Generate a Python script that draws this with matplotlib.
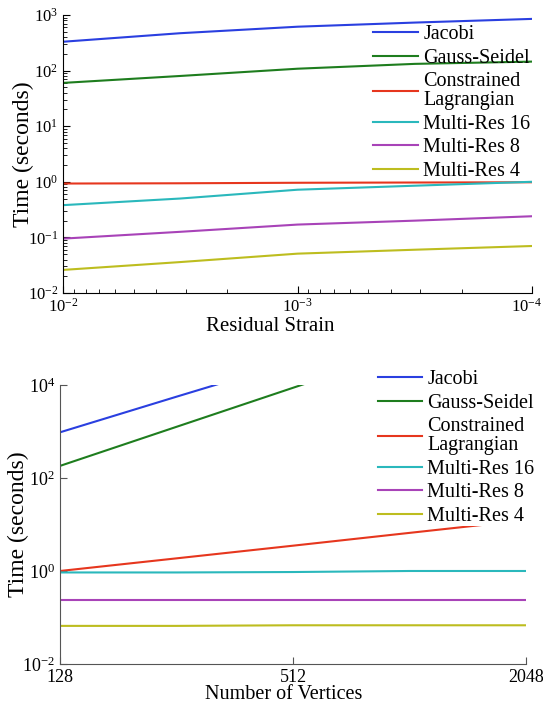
import numpy as np
import matplotlib
matplotlib.use("Agg")
import matplotlib.pyplot as plt
import matplotlib.transforms as mtransforms
from matplotlib.ticker import LogLocator, FixedLocator, NullLocator, LogFormatterSciNotation

plt.rcParams['font.family'] = ['Liberation Serif', 'DejaVu Serif']
plt.rcParams['mathtext.fontset'] = 'custom'
plt.rcParams['mathtext.rm'] = 'Liberation Serif'

# --- données : temps vs déformation résiduelle ---
strain = [1e-2, 3.16e-3, 1e-3, 3.16e-4, 1e-4]
jacobi_s = [330, 470, 615, 730, 850]
gauss_s = [60, 80, 108, 132, 145]
lagr_s = [0.93, 0.94, 0.96, 0.97, 0.98]
mr16_s = [0.38, 0.50, 0.72, 0.85, 1.0]
mr8_s = [0.095, 0.126, 0.17, 0.20, 0.24]
mr4_s = [0.026, 0.036, 0.051, 0.060, 0.070]

# --- données : temps vs nombre de sommets ---
verts = [128, 256, 512, 1024, 2048]
jacobi_v = [960, 5600, 32000]
gauss_v = [182, 1260, 8700, 60000]
lagr_v = [1.0, 1.87, 3.5, 6.6, 12.4]
mr16_v = [0.93, 0.93, 0.95, 1.0, 1.0]
mr8_v = [0.24, 0.24, 0.24, 0.24, 0.24]
mr4_v = [0.066, 0.066, 0.068, 0.068, 0.068]

labels = ['Jacobi', 'Gauss-Seidel', 'Constrained\nLagrangian',
          'Multi-Res 16', 'Multi-Res 8', 'Multi-Res 4']
colors = ['#2a3fe0', '#1e7d1e', '#e6361e', '#2ab8bc', '#a843b8', '#bdbd1f']
LW = 1.5

fig = plt.figure(figsize=(5.43, 7.06), dpi=100)

# ---------- panneau du haut ----------
ax1 = fig.add_axes([0.116, 0.585, 0.864, 0.3938])
series_s = [jacobi_s, gauss_s, lagr_s, mr16_s, mr8_s, mr4_s]
for ys, lab, c in zip(series_s, labels, colors):
    ax1.plot(strain, ys, color=c, lw=LW, label=lab)
ax1.set_xscale('log')
ax1.set_yscale('log')
ax1.set_xlim(1e-2, 1e-4)
ax1.set_ylim(1e-2, 1e3)
ax1.xaxis.set_major_locator(FixedLocator([1e-2, 1e-3, 1e-4]))
ax1.yaxis.set_major_locator(LogLocator(base=10, numticks=10))
ax1.yaxis.set_minor_locator(LogLocator(base=10, subs=np.arange(2, 10), numticks=10))
ax1.xaxis.set_major_formatter(LogFormatterSciNotation())
for s in ['top', 'right']:
    ax1.spines[s].set_visible(False)
ax1.tick_params(which='both', direction='in', labelsize=12, color='black')
ax1.tick_params(which='major', length=5)
ax1.tick_params(which='minor', length=3)
ax1.set_xlabel('Residual Strain', fontsize=15)
ax1.xaxis.set_label_coords(0.441, -0.085)
ax1.set_ylabel('Time (seconds)', fontsize=17)
ax1.yaxis.set_label_coords(-0.062, 0.5)
leg1 = ax1.legend(loc='upper left', bbox_to_anchor=(0.661, 0.963), frameon=False,
                  fontsize=14.5, handlelength=2.25, handletextpad=0.25,
                  labelspacing=0.22, borderpad=0, borderaxespad=0)
for t in leg1.get_texts():
    t.set_linespacing(1.0)

fig.canvas.draw()
# décale légèrement la dernière étiquette (10^-4) vers la gauche
last = ax1.get_xticklabels()[-1]
last.set_transform(last.get_transform() +
                   mtransforms.ScaledTranslation(-6 / 100, 0, fig.dpi_scale_trans))

# ---------- panneau du bas ----------
ax2 = fig.add_axes([0.1105, 0.0595, 0.8582, 0.3952])
ax2.plot(verts[:3], jacobi_v, color=colors[0], lw=LW, label=labels[0])
ax2.plot(verts[:4], gauss_v, color=colors[1], lw=LW, label=labels[1])
series_v = [lagr_v, mr16_v, mr8_v, mr4_v]
for ys, lab, c in zip(series_v, labels[2:], colors[2:]):
    ax2.plot(verts, ys, color=c, lw=LW, label=lab)
ax2.set_xscale('log', base=2)
ax2.set_yscale('log')
ax2.set_xlim(128, 2048)
ax2.set_ylim(1e-2, 1e4)
ax2.xaxis.set_major_locator(FixedLocator([128, 512, 2048]))
ax2.set_xticklabels(['128', '512', '2048'])
ax2.xaxis.set_minor_locator(NullLocator())
ax2.yaxis.set_major_locator(FixedLocator([1e-2, 1e0, 1e2, 1e4]))
ax2.yaxis.set_major_formatter(LogFormatterSciNotation())
ax2.yaxis.set_minor_locator(NullLocator())
for s in ['top', 'right']:
    ax2.spines[s].set_visible(False)
for s in ['left', 'bottom']:
    ax2.spines[s].set_color('#555555')
ax2.tick_params(which='both', direction='in', labelsize=13, color='#555555', length=5)
ax2.set_xlabel('Number of Vertices', fontsize=14.5)
ax2.xaxis.set_label_coords(0.48, -0.075)
ax2.set_ylabel('Time (seconds)', fontsize=17)
ax2.yaxis.set_label_coords(-0.066, 0.5)
leg2 = ax2.legend(loc='upper left', bbox_to_anchor=(0.682, 1.053), frameon=True,
                  fontsize=14.5, handlelength=2.2, handletextpad=0.25,
                  labelspacing=0.22, borderpad=0.0, borderaxespad=0,
                  fancybox=False, framealpha=1.0, edgecolor='none')
for t in leg2.get_texts():
    t.set_linespacing(1.0)

fig.savefig('out.png', dpi=100)
